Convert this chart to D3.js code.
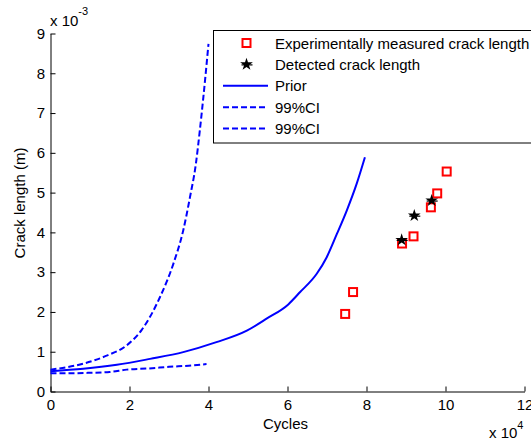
<!DOCTYPE html>
<html>
<head>
<meta charset="utf-8">
<script src="https://cdn.jsdelivr.net/npm/d3@7"></script>
<style>
  html, body { margin: 0; padding: 0; background: #fff; }
  svg { display: block; font-family: "Liberation Sans", Arial, Helvetica, sans-serif; }
</style>
</head>
<body>
<svg id="chart" width="531" height="444"></svg>
<script>
// Prior prediction of crack growth (cycles, metres)
const priorCycles = [0, 8300, 16800, 25200, 33600, 42000, 49700, 54700, 60200, 63200, 67400, 69900, 72500, 75000, 77500, 79600];
const priorLength = [0.00051, 0.00057, 0.00067, 0.00082, 0.00099, 0.00124, 0.00153, 0.00183, 0.00219, 0.00250, 0.00296, 0.00337, 0.00396, 0.00455, 0.00522, 0.00589];

// Upper 99% confidence bound
const upperCycles = [0, 8300, 14200, 19300, 23100, 27700, 31100, 33600, 35300, 36800, 37800, 38700, 40000];
const upperLength = [0.00055, 0.00070, 0.00090, 0.00116, 0.00155, 0.00237, 0.00321, 0.00405, 0.00488, 0.00572, 0.00656, 0.00740, 0.00874];

// Lower 99% confidence bound
const lowerCycles = [0, 5000, 10000, 15000, 19300, 25000, 30000, 35000, 39500];
const lowerLength = [0.00046, 0.00046, 0.00047, 0.00049, 0.00055, 0.00058, 0.00062, 0.00065, 0.00069];

// Experimentally measured crack lengths
const measuredCycles = [74600, 76600, 89000, 91900, 96300, 97900, 100300];
const measuredLength = [0.00195, 0.00250, 0.00372, 0.00390, 0.00463, 0.00498, 0.00553];

// Detected crack lengths
const detectedCycles = [88900, 92100, 96500];
const detectedLength = [0.00381, 0.00442, 0.00480];

const xTicks = [0, 20000, 40000, 60000, 80000, 100000, 120000];
const yTicks = [0, 0.001, 0.002, 0.003, 0.004, 0.005, 0.006, 0.007, 0.008, 0.009];

const legendLabels = ["Experimentally measured crack length", "Detected crack length", "Prior", "99%CI", "99%CI"];

const svg = d3.select("#chart");
const blue = "#0000ff", red = "#ff0000";
const fs = 15;

const x = d3.scaleLinear().domain([0, 120000]).range([50.5, 524.5]);
const y = d3.scaleLinear().domain([0, 0.009]).range([391.5, 33.5]);

// axes: inward ticks, labels scaled by the exponent multipliers
const xAxis = d3.axisBottom(x).tickValues(xTicks).tickSizeInner(-5).tickSizeOuter(0)
  .tickPadding(10).tickFormat(d => d3.format("d")(d / 1e4));
const yAxis = d3.axisLeft(y).tickValues(yTicks).tickSizeInner(-5).tickSizeOuter(0)
  .tickPadding(10).tickFormat(d => d3.format("d")(Math.round(d * 1e3)));

const gx = svg.append("g").attr("transform", `translate(0,${y(0)})`).call(xAxis);
const gy = svg.append("g").attr("transform", `translate(${x(0)},0)`).call(yAxis);
[gx, gy].forEach(g => {
  g.select(".domain").attr("stroke", "#000").attr("stroke-width", 1);
  g.selectAll(".tick line").attr("stroke", "#000");
  g.selectAll(".tick text").attr("fill", "#000").attr("font-size", fs)
    .attr("font-family", "'Liberation Sans', Arial, sans-serif");
});
gx.selectAll(".tick text").attr("dy", "0.71em").attr("y", 7.5);
gy.selectAll(".tick text").attr("x", -5.5);

// exponent multipliers
const yMul = svg.append("text").attr("x", 50).attr("y", 26).attr("font-size", fs).attr("fill", "#000");
yMul.append("tspan").text("x 10");
yMul.append("tspan").attr("font-size", 11).attr("dy", -11).text("-3");
const xMul = svg.append("text").attr("x", 489).attr("y", 438).attr("font-size", fs).attr("fill", "#000");
xMul.append("tspan").text("x 10");
xMul.append("tspan").attr("font-size", 11).attr("dy", -9).text("4");

// axis titles
svg.append("text").attr("x", 285.5).attr("y", 429).attr("text-anchor", "middle")
  .attr("font-size", fs).attr("fill", "#000").text("Cycles");
svg.append("text").attr("transform", "translate(25,203) rotate(-90)").attr("text-anchor", "middle")
  .attr("font-size", fs).attr("fill", "#000").text("Crack length (m)");

// curves
const line = d3.line().x(d => x(d[0])).y(d => y(d[1])).curve(d3.curveMonotoneX);
const zip = (a, b) => a.map((v, i) => [v, b[i]]);

svg.append("path").datum(zip(priorCycles, priorLength)).attr("d", line)
  .attr("fill", "none").attr("stroke", blue).attr("stroke-width", 2);
svg.append("path").datum(zip(upperCycles, upperLength)).attr("d", line)
  .attr("fill", "none").attr("stroke", blue).attr("stroke-width", 2).attr("stroke-dasharray", "6,3");
svg.append("path").datum(zip(lowerCycles, lowerLength)).attr("d", line)
  .attr("fill", "none").attr("stroke", blue).attr("stroke-width", 2).attr("stroke-dasharray", "6,3");

// measured points: open red squares
svg.append("g").selectAll("rect").data(zip(measuredCycles, measuredLength)).join("rect")
  .attr("x", d => x(d[0]) - 4).attr("y", d => y(d[1]) - 4)
  .attr("width", 8).attr("height", 8)
  .attr("fill", "none").attr("stroke", red).attr("stroke-width", 2);

// detected points: black stars
const star = d3.symbol().type(d3.symbolStar).size(50);
function drawDetected(g, cx, cy) {
  g.append("line").attr("x1", cx - 5).attr("x2", cx + 6).attr("y1", cy + 0.5).attr("y2", cy + 0.5)
    .attr("stroke", "#000").attr("stroke-width", 1.2);
  g.append("path").attr("d", star).attr("transform", `translate(${cx},${cy})`).attr("fill", "#000");
}
const gd = svg.append("g");
zip(detectedCycles, detectedLength).forEach(d => drawDetected(gd, x(d[0]), y(d[1])));

// legend
const lg = svg.append("g");
lg.append("rect").attr("x", 213.5).attr("y", 30.5).attr("width", 330).attr("height", 112.5)
  .attr("fill", "#fff").attr("stroke", "#000").attr("stroke-width", 1);
const rowY = i => 43 + i * 21.4;
legendLabels.forEach((t, i) => {
  lg.append("text").attr("x", 275).attr("y", rowY(i) + 5.5).attr("font-size", fs).attr("fill", "#000").text(t);
});
lg.append("rect").attr("x", 246.5 - 4).attr("y", rowY(0) - 4).attr("width", 8).attr("height", 8)
  .attr("fill", "none").attr("stroke", red).attr("stroke-width", 2);
drawDetected(lg, 246.5, rowY(1));
lg.append("line").attr("x1", 223).attr("x2", 268).attr("y1", rowY(2)).attr("y2", rowY(2))
  .attr("stroke", blue).attr("stroke-width", 2);
[3, 4].forEach(i => {
  lg.append("line").attr("x1", 223).attr("x2", 268).attr("y1", rowY(i)).attr("y2", rowY(i))
    .attr("stroke", blue).attr("stroke-width", 2).attr("stroke-dasharray", "6,3");
});
</script>
</body>
</html>
